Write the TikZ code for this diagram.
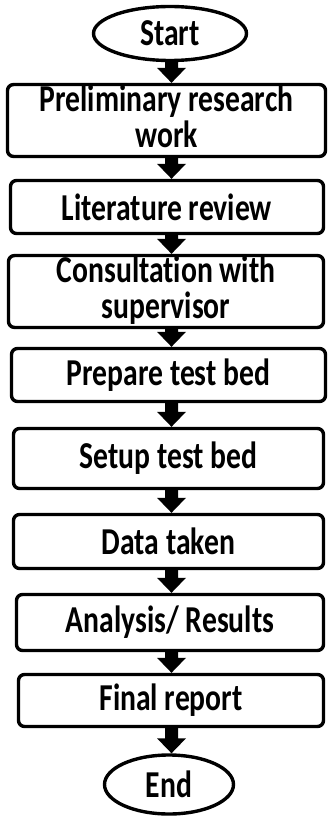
\documentclass[tikz,border=0pt]{standalone}
\usepackage{fontspec}
\setmainfont[Ligatures={NoCommon}]{Carlito}
\usetikzlibrary{shapes.geometric,calc}
\tikzset{
  x=1pt, y=-1pt,
  label font/.style={font=\bfseries\fontsize{38}{31}\selectfont},
  stepbox/.style={draw, line width=3.4pt, rounded corners=6pt, inner sep=0pt,
    align=center, label font},
  term/.style={draw, ellipse, line width=3.4pt, inner sep=0pt, label font},
}
% horizontally condensed lettering
\newcommand\narrow[1]{\scalebox{0.78}[1]{#1}}
\newcommand\twolines[2]{\narrow{\begin{tabular}{@{}c@{}}#1\\#2\end{tabular}}}
% block arrow from the bottom of #1 to the top of #2
\newcommand\flowarrow[2]{%
  \fill let \p1=(#1.south), \p2=(#2.north) in
    (165pt,\y1) -- (178pt,\y1) -- (178pt,\y2+15pt) -- (186pt,\y2+15pt)
    -- (171.5pt,\y2) -- (157pt,\y2+15pt) -- (165pt,\y2+15pt) -- cycle;}
\begin{document}
\begin{tikzpicture}
\useasboundingbox (0,0) rectangle (330,818);
\fill[white] (0,0) rectangle (330,818);

\node[term, minimum width=153, minimum height=54] (start) at (170,33.5) {\narrow{Start}};
\node[stepbox, minimum width=318, minimum height=66] (b1) at (166.5,120.5) {\twolines{Preliminary research}{work}};
\node[stepbox, minimum width=313, minimum height=53] (b2) at (167,207) {\narrow{Literature review}};
\node[stepbox, minimum width=315, minimum height=60] (b3) at (166,291.5) {\twolines{Consultation with}{supervisor}};
\node[stepbox, minimum width=314, minimum height=53] (b4) at (168.5,375) {\narrow{Prepare test bed}};
\node[stepbox, minimum width=310, minimum height=60] (b5) at (168.5,458.5) {\narrow{Setup test bed}};
\node[stepbox, minimum width=310, minimum height=54] (b6) at (168.5,541.5) {\narrow{Data taken}};
\node[stepbox, minimum width=307, minimum height=56] (b7) at (170,622.5) {\narrow{Analysis/ Results}};
\node[stepbox, minimum width=305, minimum height=52] (b8) at (171,700.5) {\narrow{Final report}};
\node[term, minimum width=129, minimum height=59] (end) at (169,784.5) {\narrow{End}};

\flowarrow{start}{b1}
\flowarrow{b1}{b2}
\flowarrow{b2}{b3}
\flowarrow{b3}{b4}
\flowarrow{b4}{b5}
\flowarrow{b5}{b6}
\flowarrow{b6}{b7}
\flowarrow{b7}{b8}
\flowarrow{b8}{end}
\end{tikzpicture}
\end{document}
